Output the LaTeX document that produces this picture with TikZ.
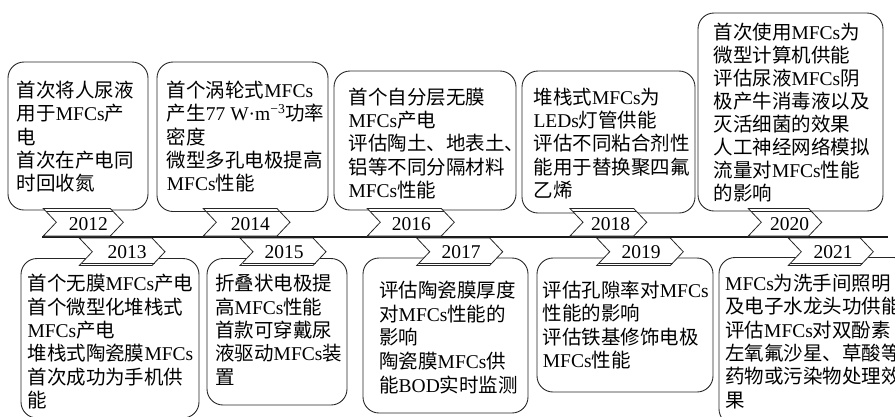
\documentclass[tikz,border=0pt]{standalone}
\usepackage{fontspec}
\setmainfont{Liberation Serif}
\newfontfamily\cjk{Noto Sans CJK SC}
\newfontfamily\enf{Liberation Serif}
\newcommand\en[1]{{\enf #1}}
\tikzset{
 box/.style={draw=black!85, line width=0.9pt, rounded corners=16pt, inner sep=0pt},
 txt/.style={font=\cjk\fontsize{19.5}{23.3}\selectfont, align=left, inner sep=0pt, anchor=north west},
 yr/.style={font=\enf\fontsize{19.5}{20}\selectfont, inner sep=0pt, anchor=base},
 ribbon/.style={draw=black!85, line width=0.8pt, fill=white, line join=miter},
 fold/.style={draw=black!85, line width=0.6pt},
 axis/.style={line width=2.6pt, draw=black!90},
}
\newcommand\boxtext[5]{\node[txt,#5] (#1) at (#2,{#3-18}) {\rule{0pt}{18pt}#4};}
% top tag: name, L, tip, text x, year
\newcommand\toptag[5]{%
  \draw[ribbon] (#2,208.5) -- (#3-13,208.5) -- (#3,222.25) -- (#3-13,236) -- (#2,236) -- (#2+13,222.25) -- cycle;
  \draw[fold] (#2+2.5,211.1) -- (#3-10.5,211.1);
  \node[yr] (#1) at (#4,230) {#5};}
\newcommand\bottag[5]{%
  \draw[ribbon] (#2,238) -- (#3-13,238) -- (#3,251.75) -- (#3-13,265.5) -- (#2,265.5) -- (#2+13,251.75) -- cycle;
  \draw[fold] (#2+2.5,262.9) -- (#3-10.5,262.9);
  \node[yr] (#1) at (#4,258.3) {#5};}
\begin{document}
\begin{tikzpicture}[x=1pt,y=-1pt]
\useasboundingbox (0,0) rectangle (895,416);
\clip (0,0) rectangle (895,416);
% boxes
\node[box, minimum width=140pt, minimum height=148pt] (b12) at (78,136) {};
\node[box, minimum width=171pt, minimum height=149.5pt] (b14) at (242.5,136.75) {};
\node[box, minimum width=182pt, minimum height=139pt] (b16) at (425,140.5) {};
\node[box, minimum width=173pt, minimum height=142pt] (b18) at (608.5,142) {};
\node[box, minimum width=185pt, minimum height=198pt] (b20) at (790.5,112) {};
\node[box, minimum width=178pt, minimum height=159.5pt] (b13) at (110,338.25) {};
\node[box, minimum width=140pt, minimum height=146.5pt] (b15) at (277,331.75) {};
\node[box, minimum width=165pt, minimum height=155pt] (b17) at (445.5,335.5) {};
\node[box, minimum width=176pt, minimum height=134pt] (b19) at (625,325) {};
\node[box, minimum width=191pt, minimum height=167.5pt] (b21) at (814.5,341.25) {};
% texts
\boxtext{t12}{16.7}{97.4}{首次将人尿液\\用于\en{MFCs}产\\电\\首次在产电同\\时回收氮}{}
\boxtext{t14}{166.7}{97.4}{首个涡轮式\en{MFCs}\\产生\en{77 W·m\textsuperscript{−3}}功率\\密度\\微型多孔电极提高\\\en{MFCs}性能}{}
\boxtext{t16}{348.3}{104}{首个自分层无膜\\\en{MFCs}产电\\评估陶土、地表土、\\铝等不同分隔材料\\\en{MFCs}性能}{}
\boxtext{t18}{533.3}{104}{堆栈式\en{MFCs}为\\\en{LEDs}灯管供能\\评估不同粘合剂性\\能用于替换聚四氟\\乙烯}{}
\boxtext{t20}{713.3}{39}{首次使用\en{MFCs}为\\微型计算机供能\\评估尿液\en{MFCs}阴\\极产牛消毒液以及\\灭活细菌的效果\\人工神经网络模拟\\流量对\en{MFCs}性能\\的影响}{font=\cjk\fontsize{19.5}{23}\selectfont}
\boxtext{t13}{27.3}{290.7}{首个无膜\en{MFCs}产电\\首个微型化堆栈式\\\en{MFCs}产电\\堆栈式陶瓷膜\en{MFCs}\\首次成功为手机供\\能}{}
\boxtext{t15}{215}{290.7}{折叠状电极提\\高\en{MFCs}性能\\首款可穿戴尿\\液驱动\en{MFCs}装\\置}{}
\boxtext{t17}{379}{297.4}{评估陶瓷膜厚度\\对\en{MFCs}性能的\\影响\\陶瓷膜\en{MFCs}供\\能\en{BOD}实时监测}{font=\cjk\fontsize{19.5}{23.6}\selectfont}
\boxtext{t19}{542.7}{297.4}{评估孔隙率对\en{MFCs}\\性能的影响\\评估铁基修饰电极\\\en{MFCs}性能}{}
\boxtext{t21}{725}{290.4}{\en{MFCs}为洗手间照明\\及电子水龙头功供能\\评估\en{MFCs}对双酚素\\左氧氟沙星、草酸等\\药物或污染物处理效\\果}{}
% timeline
\coordinate (tlA) at (42,237);
\coordinate (tlB) at (888,237);
\draw[axis] (tlA) -- (tlB);
% tags
\toptag{y2012}{43.3}{123.3}{88.3}{2012}
\toptag{y2014}{203.3}{290}{250.3}{2014}
\toptag{y2016}{367.3}{454.3}{411.3}{2016}
\toptag{y2018}{570}{646.7}{610.5}{2018}
\toptag{y2020}{748.3}{821.7}{789.7}{2020}
\bottag{y2013}{79.3}{165}{127}{2013}
\bottag{y2015}{240}{326}{284.2}{2015}
\bottag{y2017}{416.7}{502.7}{461.2}{2017}
\bottag{y2019}{596.7}{683.3}{641.2}{2019}
\bottag{y2021}{788.3}{873.3}{833}{2021}
\end{tikzpicture}
\end{document}
